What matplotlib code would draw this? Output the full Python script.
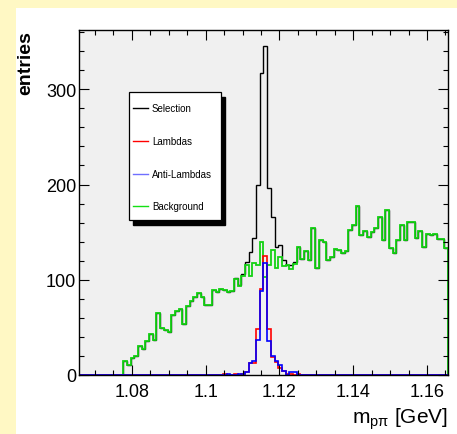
import numpy as np
import matplotlib
matplotlib.use("Agg")
import matplotlib.pyplot as plt
from matplotlib.patches import Rectangle
from matplotlib.lines import Line2D
from matplotlib.ticker import MultipleLocator, FormatStrFormatter

plt.rcParams['font.family'] = ['Liberation Sans', 'DejaVu Sans']
plt.rcParams['mathtext.fontset'] = 'custom'
plt.rcParams['mathtext.rm'] = 'Liberation Sans'
plt.rcParams['mathtext.it'] = 'Liberation Sans:italic'

# histogram window: lambda mass +- 50 MeV, 100 bins
m_lambda = 1.115683
half_window = 0.05
n_bins = 100

# bin contents (bins 0..99)
background = [0] * 12 + [
    15, 11, 18, 20, 30, 27, 36, 43, 37, 65,
    49, 47, 45, 63, 67, 69, 54, 72, 78, 82,
    86, 82, 74, 74, 89, 87, 90, 89, 87, 88,
    101, 93, 104, 116, 104, 118, 115, 140, 103, 115,
    131, 112, 124, 114, 115, 111, 117, 134, 122, 130,
    121, 154, 112, 142, 140, 121, 124, 132, 131, 128,
    130, 152, 157, 177, 147, 151, 145, 150, 154, 166,
    142, 173, 133, 128, 142, 158, 142, 161, 161, 144,
    151, 134, 148, 147, 148, 143, 143, 133,
]

lambdas = [0] * 39 + [1, 0, 0, 1, 0, 1, 3, 13, 13, 48, 90,
                      125, 48, 19, 14, 7, 4, 1, 1, 0, 1] + [0] * 40

anti_lambdas = [0] * 40 + [1, 0, 0, 1, 1, 3, 13, 15, 37, 88,
                           118, 36, 20, 15, 10, 4, 0, 3, 3, 0] + [0] * 40

selection = [0] * 12 + [
    15, 11, 18, 20, 30, 27, 36, 43, 37, 65,
    49, 47, 45, 63, 67, 69, 54, 72, 78, 82,
    86, 82, 74, 74, 89, 87, 90, 89, 87, 88,
    102, 94, 106, 119, 129, 144, 199, 317, 345, 196,
    166, 134, 137, 121, 116, 115, 119, 134, 122, 130,
    121, 154, 112, 142, 140, 121, 124, 132, 131, 128,
    130, 152, 157, 177, 147, 151, 145, 150, 154, 166,
    142, 173, 133, 128, 142, 158, 142, 161, 161, 144,
    151, 134, 148, 147, 148, 143, 143, 133,
]

series = [
    ("Selection", selection, "black", 1.0),
    ("Background", background, "#14d214", 1.3),
    ("Lambdas", lambdas, "#ff0000", 1.2),
    ("Anti-Lambdas", anti_lambdas, "#0000ff", 1.2),
]
legend_order = ["Selection", "Lambdas", "Anti-Lambdas", "Background"]
legend_colors = {"Selection": "black", "Lambdas": "#ff0000",
                 "Anti-Lambdas": "#6f6fff", "Background": "#14e014"}

W, H = 457, 435


def fx(x):
    return x / W


def fy(y):
    return 1 - y / H


fig = plt.figure(figsize=(W / 100, H / 100), dpi=100, facecolor="#fff8c4")
# white pad inside the yellow canvas
fig.add_artist(Rectangle((fx(16), 0), 1 - fx(16), fy(9), transform=fig.transFigure,
                         facecolor="white", edgecolor="none", zorder=-1))

ax = fig.add_axes([fx(79), fy(376), fx(448) - fx(79), fy(31) - fy(376)])
ax.set_facecolor("#f0f0f0")

edges = np.linspace(m_lambda - half_window, m_lambda + half_window, n_bins + 1)
for name, vals, col, lw in series:
    ax.stairs(vals, edges, color=col, lw=lw)

ax.set_xlim(edges[0], edges[-1])
ax.set_ylim(0, 1.05 * max(selection))

ax.xaxis.set_major_locator(MultipleLocator(0.02))
ax.xaxis.set_minor_locator(MultipleLocator(0.005))
ax.xaxis.set_major_formatter(FormatStrFormatter('%g'))
ax.yaxis.set_major_locator(MultipleLocator(100))
ax.yaxis.set_minor_locator(MultipleLocator(20))
ax.tick_params(which='both', direction='in', top=True, right=True, width=0.8)
ax.tick_params(which='major', length=7.5, labelsize=13)
ax.tick_params(which='minor', length=3.8)
ax.tick_params(axis='x', pad=6)
ax.tick_params(axis='y', pad=2)
for s in ax.spines.values():
    s.set_linewidth(1.0)

fig.text(fx(26), fy(31), "entries", rotation=90, ha='center', va='top',
         fontsize=14, fontweight='bold')
fig.text(fx(448), fy(424), r"$\mathrm{m}_{\mathrm{pπ}}$ [GeV]", ha='right',
         va='baseline', fontsize=15)

# legend box with hard shadow, drawn like the ROOT TLegend
bx0, bx1, by0, by1 = 129, 221, 93, 221
fig.add_artist(Rectangle((fx(bx0 + 4), fy(by1 + 5)), fx(bx1 - bx0), fy(by0) - fy(by1),
                         transform=fig.transFigure, facecolor="black",
                         edgecolor="black", zorder=5))
fig.add_artist(Rectangle((fx(bx0), fy(by1)), fx(bx1 - bx0), fy(by0) - fy(by1),
                         transform=fig.transFigure, facecolor="white",
                         edgecolor="black", lw=0.9, zorder=6))
entry_y = [109, 142, 175, 207]
for name, yy in zip(legend_order, entry_y):
    fig.add_artist(Line2D([fx(133), fx(148)], [fy(yy), fy(yy)],
                          transform=fig.transFigure, color=legend_colors[name],
                          lw=1.0, zorder=7))
    fig.text(fx(152), fy(yy), name, ha='left', va='center', fontsize=7,
             zorder=7)

fig.savefig("out.png", dpi=100, facecolor=fig.get_facecolor())
